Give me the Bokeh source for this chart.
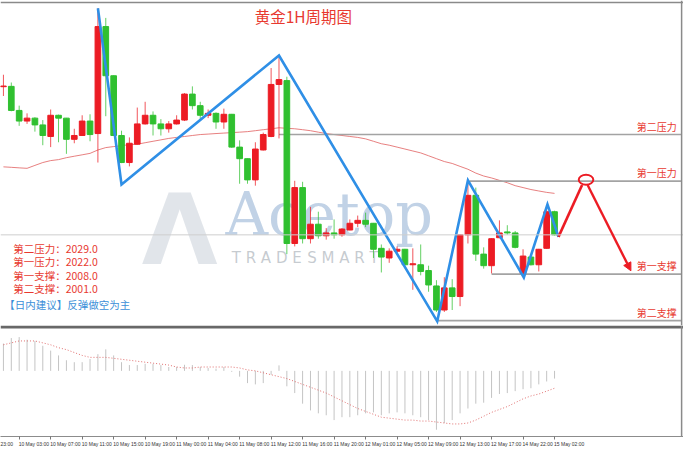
import numpy as np
from bokeh.plotting import figure
from bokeh.layouts import column
from bokeh.models import (Range1d, Span, Arrow, NormalHead, FixedTicker,
                          ColumnDataSource, CustomJSTickFormatter)
from bokeh.core.properties import value
from bokeh.embed import file_html
from bokeh.resources import INLINE

# ---------------- data ----------------
opens = [2036.2, 2036.25, 2032.63, 2031.03, 2031.47, 2030.45, 2028.71, 2031.9, 2031.47, 2028.28,
         2028.86, 2031.03, 2029.15, 2045.25, 2037.85, 2028.86, 2024.79, 2027.55, 2030.6, 2031.9,
         2030.6, 2029.87, 2030.6, 2031.18, 2035.09, 2033.35, 2031.9, 2032.19, 2030.89, 2032.05,
         2027.11, 2025.37, 2022.18, 2026.68, 2028.71, 2036.54, 2037.12, 2012.61, 2021.02, 2013.33,
         2015.51, 2013.77, 2014.2, 2013.91, 2014.64, 2015.65, 2016.09, 2015.65, 2011.88, 2010.43,
         2011.45, 2011.74, 2009.41, 2009.41, 2008.54, 2006.22, 2002.6, 2005.93, 2004.63, 2013.91,
         2019.86, 2011.01, 2009.27, 2013.48, 2014.35, 2014.2, 2008.11, 2010.57, 2009.41, 2011.88,
         2017.39]
highs = [2038.0, 2036.83, 2033.35, 2032.19, 2031.61, 2031.18, 2032.77, 2032.0, 2031.5, 2029.87,
         2031.9, 2032.05, 2048.0, 2046.55, 2037.9, 2029.58, 2028.57, 2033.06, 2033.93, 2032.48,
         2031.32, 2031.03, 2031.9, 2035.24, 2036.25, 2033.93, 2032.77, 2032.34, 2032.9, 2032.1,
         2028.13, 2025.4, 2027.84, 2029.29, 2039.01, 2040.75, 2037.7, 2022.04, 2021.89, 2018.12,
         2017.39, 2014.93, 2016.23, 2014.93, 2016.23, 2016.81, 2017.25, 2015.7, 2012.46, 2011.88,
         2012.17, 2011.8, 2011.88, 2012.46, 2009.27, 2007.09, 2007.53, 2007.24, 2014.0, 2021.6,
         2021.02, 2012.03, 2013.4, 2016.09, 2015.36, 2014.49, 2011.74, 2010.6, 2011.8, 2018.41,
         2017.54]
lows = [2034.8, 2032.5, 2030.31, 2030.6, 2029.44, 2027.4, 2027.11, 2027.84, 2026.1, 2027.69,
        2028.8, 2027.99, 2024.79, 2031.76, 2028.8, 2024.7, 2024.21, 2027.5, 2030.5, 2028.86,
        2028.86, 2029.29, 2030.5, 2031.03, 2032.77, 2031.32, 2031.47, 2029.87, 2029.87, 2027.0,
        2021.6, 2021.6, 2021.31, 2026.6, 2028.6, 2028.42, 2011.01, 2012.17, 2012.61, 2012.61,
        2013.33, 2013.19, 2013.33, 2013.62, 2014.6, 2015.07, 2015.07, 2010.43, 2008.25, 2009.7,
        2011.16, 2009.3, 2005.64, 2007.82, 2005.35, 2002.31, 2002.31, 2002.6, 2003.18, 2012.61,
        2009.99, 2008.83, 2008.11, 2013.4, 2013.91, 2011.88, 2008.0, 2009.3, 2008.4, 2011.8,
        2013.8]
closes = [2036.3, 2032.63, 2031.03, 2031.47, 2030.45, 2028.86, 2031.9, 2031.47, 2028.28, 2028.86,
          2031.03, 2029.0, 2045.25, 2037.85, 2028.86, 2024.79, 2027.69, 2030.6, 2031.9, 2030.6,
          2029.87, 2030.6, 2031.18, 2035.09, 2033.35, 2031.9, 2032.19, 2030.89, 2032.05, 2027.11,
          2025.37, 2022.18, 2026.82, 2029.0, 2036.54, 2037.27, 2012.61, 2021.02, 2013.33, 2015.51,
          2013.77, 2014.2, 2013.91, 2014.78, 2015.65, 2016.09, 2015.51, 2011.74, 2010.57, 2011.45,
          2011.74, 2009.41, 2009.56, 2008.4, 2006.37, 2002.6, 2005.93, 2004.63, 2013.91, 2019.86,
          2011.01, 2009.27, 2013.33, 2014.2, 2014.2, 2012.03, 2010.72, 2009.41, 2011.74, 2017.39,
          2013.91]
ma_values = [2024.14, 2024.07, 2023.99, 2023.92, 2024.36, 2024.79, 2025.08, 2025.23, 2025.52, 2025.74,
             2025.95, 2026.17, 2026.68, 2027.04, 2027.19, 2027.33, 2027.48, 2027.55, 2027.77, 2027.99,
             2028.2, 2028.42, 2028.57, 2028.71, 2028.86, 2029.0, 2029.07, 2029.15, 2029.22, 2029.29,
             2029.36, 2029.44, 2029.58, 2029.73, 2029.87, 2030.02, 2029.94, 2029.87, 2029.73, 2029.58,
             2029.36, 2029.15, 2029.0, 2028.86, 2028.71, 2028.57, 2028.35, 2027.99, 2027.62, 2027.4,
             2027.11, 2026.82, 2026.53, 2026.24, 2025.81, 2025.37, 2024.94, 2024.65, 2024.21, 2023.78,
             2023.2, 2022.76, 2022.47, 2022.11, 2021.75, 2021.31, 2021.02, 2020.73, 2020.51, 2020.3,
             2020.15]
macd_hist = [2.83, 3.4, 3.5, 3.23, 3.1, 2.6, 2.1, 1.6, 1.1, 0.9,
             0.9, 1.23, 1.73, 2.23, 1.6, 0.9, 0.6, 0.6, 0.73, 0.73,
             0.6, 0.4, 0.4, 0.63, 0.6, 0.4, 0.3, 0.23, 0.4, -0.1,
             -0.6, -1.27, -1.4, -1.27, -0.4, 0.57, -1.6, -2.3, -3.4, -4.1,
             -4.4, -4.6, -5.1, -4.8, -4.8, -4.6, -4.4, -4.3, -4.6, -4.4,
             -4.3, -4.4, -4.6, -4.8, -5.1, -6.1, -5.4, -5.1, -4.4, -3.9,
             -3.4, -3.3, -2.8, -2.4, -2.3, -2.1, -1.9, -1.8, -1.4, -1.1,
             -0.8]
macd_signal = [2.7, 2.9, 3.1, 3.1, 3.1, 2.9, 2.7, 2.4, 2.2, 1.9,
               1.6, 1.4, 1.4, 1.4, 1.3, 1.2, 1.1, 1.0, 0.9, 0.8,
               0.7, 0.6, 0.4, 0.3, 0.3, 0.4, 0.4, 0.4, 0.4, 0.4,
               0.3, 0.1, 0.0, -0.2, -0.4, -0.6, -0.8, -1.1, -1.4, -1.7,
               -2.0, -2.3, -2.7, -3.1, -3.5, -3.9, -4.2, -4.5, -4.8, -4.9,
               -5.0, -5.1, -5.1, -5.2, -5.2, -5.3, -5.4, -5.5, -5.5, -5.4,
               -5.1, -4.7, -4.3, -4.0, -3.7, -3.3, -2.9, -2.6, -2.4, -2.1,
               -1.8]
tick_bars = [-2, 2, 6, 10, 14, 18, 22, 26, 30, 34, 38, 42, 46, 50, 54, 58, 62, 66, 70]
tick_labels = ["9 May 23:00", "10 May 03:00", "10 May 07:00", "10 May 11:00", "10 May 15:00",
               "10 May 19:00", "11 May 00:00", "11 May 04:00", "11 May 08:00", "11 May 12:00",
               "11 May 16:00", "11 May 20:00", "12 May 01:00", "12 May 05:00", "12 May 09:00",
               "12 May 13:00", "12 May 17:00", "14 May 22:00", "15 May 02:00"]
level_names = ["第二压力", "第一压力", "第一支撑", "第二支撑"]
level_prices = [2029.0, 2022.0, 2008.0, 2001.0]
level_start_bar = [35.0, 59.2, 62.0, 55.1]
zig_x = [12.0, 15.0, 35.0, 55.1, 59.0, 66.1, 69.1, 70.5]
zig_y = [2048.0, 2021.5, 2040.9, 2000.9, 2022.1, 2007.5, 2018.5, 2013.6]
fc_x = [70.5, 73.5, 74.2, 79.7]
fc_y = [2013.6, 2021.4, 2021.4, 2008.5]
target_x = [74.0]
target_y = [2022.2]
title_text = "黄金1H周期图"
advice_text = "【日内建议】反弹做空为主"

# ---------------- styling ----------------
RED = "#ec1c24"
GREEN = "#30c030"
TXT_RED = "#e8392f"
BLUE = "#2f8fe6"
CJK = value("Noto Sans CJK SC")
W = 683
X_END_BORDER = 86.14

xr = Range1d(-0.372, 86.38)
p = figure(width=W, height=325, x_range=xr, y_range=Range1d(2000.27, 2049.17),
           x_axis_type=None, y_axis_type=None, toolbar_location=None,
           output_backend="svg", min_border=0)
p.grid.visible = False
p.outline_line_color = None
p.background_fill_color = "white"

# watermark
p.text(x=[22.4], y=[2014.6], text=["Λ"], text_font=value("DejaVu Sans"), text_font_style="bold",
       text_font_size="98px", text_color="#c3ccd6", text_alpha=0.5, text_align="center",
       text_baseline="alphabetic")
p.text(x=[28.2], y=[2017.0], text=["Acetop"], text_font=value("DejaVu Serif"),
       text_font_size="59px", text_color="#a6bfdb", text_alpha=0.7, text_baseline="alphabetic")
p.text(x=[29.0], y=[2010.4], text=["T R A D E"], text_font=value("DejaVu Sans"),
       text_font_size="15px", text_color="#b4bac1", text_alpha=0.75, text_baseline="middle")
p.text(x=[38.6], y=[2010.4], text=["S M A R T"], text_font=value("DejaVu Sans"),
       text_font_size="15px", text_color="#b4bac1", text_alpha=0.75, text_baseline="middle")

idx = np.arange(len(opens))
# moving average
p.line(idx, ma_values, line_color="#e36a6a", line_width=1, line_alpha=0.85)
# current price line
p.add_layout(Span(location=closes[-1], dimension="width", line_color="#cfcfcf", line_width=1))
# level lines
p.segment(x0=level_start_bar, y0=level_prices, x1=[X_END_BORDER] * 4, y1=level_prices,
          line_color="#a3a3a3", line_width=1.6)

o = np.array(opens)
c = np.array(closes)
colors = [RED if cc >= oo else GREEN for oo, cc in zip(o, c)]
src = ColumnDataSource(dict(x=idx, top=np.maximum(o, c), bottom=np.minimum(o, c),
                            high=highs, low=lows, color=colors))
p.segment(x0="x", y0="low", x1="x", y1="high", line_color="color", line_width=1,
          line_alpha=0.75, source=src)
p.vbar(x="x", width=0.72, top="top", bottom="bottom", fill_color="color",
       line_color="color", line_width=1, source=src)

# zigzag
p.line(zig_x, zig_y, line_color=BLUE, line_width=2.6, line_join="miter")
# forecast
p.line(fc_x[:2], fc_y[:2], line_color=RED, line_width=2.6)
p.ellipse(x=target_x, y=target_y, width=1.85, height=1.5, fill_color=None,
          line_color=RED, line_width=2)
p.add_layout(Arrow(end=NormalHead(size=8, fill_color=RED, line_color=RED),
                   x_start=fc_x[2], y_start=fc_y[2], x_end=fc_x[3], y_end=fc_y[3],
                   line_color=RED, line_width=2.4))

# borders
p.add_layout(Span(location=2048.88, dimension="width", line_color="#8a8a8a", line_width=1.5))
p.add_layout(Span(location=X_END_BORDER, dimension="height", line_color="#8a8a8a", line_width=1.5))

# texts
p.text(x=[38.1], y=[2046.85], text=[title_text], text_font=CJK, text_font_size="15.5px",
       text_color=TXT_RED, text_align="center", text_baseline="middle")
p.text(x=[80.43] * 4, y=[lv + 1.25 for lv in level_prices], text=level_names, text_font=CJK,
       text_font_size="10px", text_color=TXT_RED, text_align="left", text_baseline="middle")
left_lines = [f"{n}：{v:.1f}" for n, v in zip(level_names, level_prices)]
p.text(x=[1.24] * 4, y=[2011.84, 2009.89, 2007.82, 2005.79], text=left_lines, text_font=CJK,
       text_font_size="10.5px", text_color=TXT_RED, text_align="left", text_baseline="middle")
p.text(x=[0.12], y=[2003.36], text=[advice_text], text_font=CJK, text_font_size="10.5px",
       text_color="#3b8fd8", text_align="left", text_baseline="middle")

# ---------------- lower (MACD) panel ----------------
q = figure(width=W, height=124, x_range=xr, y_range=Range1d(-6.8, 4.7),
           y_axis_type=None, toolbar_location=None, output_backend="svg",
           min_border=0, min_border_bottom=13)
q.grid.visible = False
q.outline_line_color = None
q.segment(x0=idx, y0=0, x1=idx, y1=macd_hist, line_color="#c4c4c4", line_width=1)
q.line(idx, macd_signal, line_color="#e07070", line_dash="1 2", line_width=1)
q.add_layout(Span(location=4.55, dimension="width", line_color="#686868", line_width=3))
q.add_layout(Span(location=X_END_BORDER, dimension="height", line_color="#8a8a8a", line_width=1.5))

centers = [t + (1.74 if i == 0 else 1.86) for i, t in enumerate(tick_bars)]
q.xaxis.ticker = FixedTicker(ticks=centers, minor_ticks=tick_bars)
q.xaxis.formatter = CustomJSTickFormatter(
    args=dict(centers=centers, labels=tick_labels),
    code="""
    for (let i = 0; i < centers.length; i++) {
        if (Math.abs(centers[i] - tick) < 1e-6) { return i == 0 ? labels[i].slice(-5) : labels[i]; }
    }
    return '';
    """)
q.xaxis.major_tick_line_color = None
q.xaxis.major_tick_out = 2
q.xaxis.major_tick_in = 0
q.xaxis.minor_tick_out = 3
q.xaxis.minor_tick_in = 0
q.xaxis.minor_tick_line_color = "#777777"
q.xaxis.axis_line_color = "#8c8c8c"
q.xaxis.major_label_standoff = 1
q.xaxis.major_label_text_font = "Liberation Sans"
q.xaxis.major_label_text_font_size = "5px"
q.xaxis.major_label_text_color = "#333333"

layout = column(p, q, spacing=0)
open("out.html", "w").write(file_html(layout, INLINE))
